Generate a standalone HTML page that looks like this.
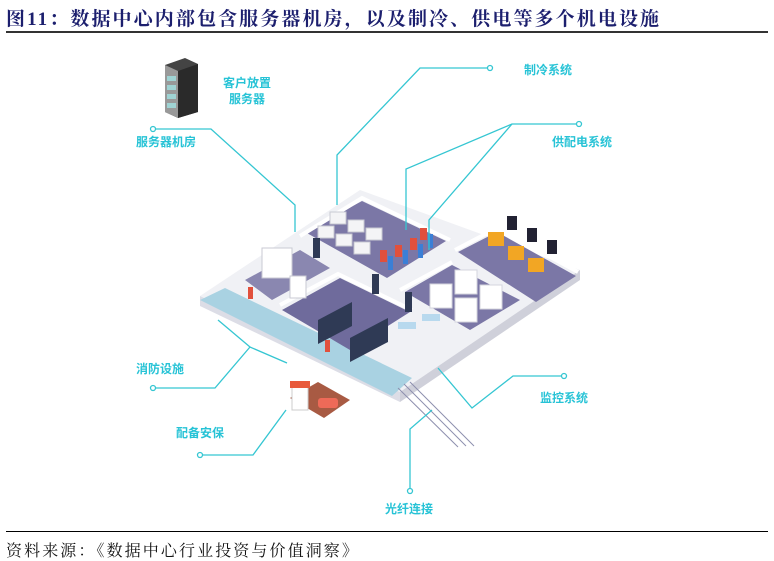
<!DOCTYPE html>
<html><head><meta charset="utf-8"><style>
body{margin:0;width:774px;height:561px;background:#fff;overflow:hidden;position:relative;font-family:"Liberation Serif","Noto Serif CJK SC",serif}
.t{position:absolute;left:6px;top:4px;font-size:19px;font-weight:bold;color:#1c1f6e;letter-spacing:2.1px;white-space:nowrap}
.s{position:absolute;left:6px;top:538px;font-size:16px;color:#111;letter-spacing:2.1px;white-space:nowrap}
.hr{position:absolute;left:6px;width:762px;height:1.5px;background:#333}
</style></head><body>
<div class="t">图11：数据中心内部包含服务器机房，以及制冷、供电等多个机电设施</div>
<div class="hr" style="top:31px"></div>
<div class="hr" style="top:531px;height:1px;background:#000"></div>
<div class="s">资料来源：《数据中心行业投资与价值洞察》</div>
<svg width="774" height="561" style="position:absolute;left:0;top:0" font-family="Liberation Sans,Noto Sans CJK SC,sans-serif" font-weight="bold" font-size="12">
<polygon points="165,65 185,58 198,64 198,112 178,118 165,112" fill="#444"/>
<polygon points="165,65 178,71 178,118 165,112" fill="#999"/>
<g fill="#9fd3d3"><rect x="167" y="76" width="9" height="5"/><rect x="167" y="85" width="9" height="5"/><rect x="167" y="94" width="9" height="5"/><rect x="167" y="103" width="9" height="5"/></g>
<polygon points="178,71 198,64 198,112 178,118" fill="#2a2a2a"/>
<g fill="#27c3d6">
<text x="247" y="87" text-anchor="middle">客户放置</text>
<text x="247" y="103" text-anchor="middle">服务器</text>
<text x="136" y="146">服务器机房</text>
<text x="524" y="74">制冷系统</text>
<text x="552" y="146">供配电系统</text>
<text x="136" y="373">消防设施</text>
<text x="176" y="437">配备安保</text>
<text x="540" y="402">监控系统</text>
<text x="385" y="513">光纤连接</text>
</g>
<polygon points="200,296 360,190 580,270 400,392" fill="#f0f1f5"/>
<polygon points="200,296 400,392 400,402 200,306" fill="#dcdde6"/>
<polygon points="400,392 580,270 580,280 400,402" fill="#cfd0da"/>
<polygon points="200,300 225,288 412,378 392,396" fill="#a9d2e2"/>
<polygon points="305,232 362,201 446,241 387,278" fill="#7b77a6"/>
<polygon points="458,252 497,232 576,276 536,302" fill="#7b77a6"/>
<polygon points="405,292 452,265 520,300 470,330" fill="#7b77a6"/>
<polygon points="282,310 340,278 410,312 350,350" fill="#6f6b9c"/>
<polygon points="245,280 300,250 330,268 272,300" fill="#8a87b0"/>
<g stroke="#fff" stroke-width="4" fill="none">
<polyline points="300,236 362,198 450,240"/><polyline points="455,250 497,228 578,272"/>
<polyline points="280,305 338,274 412,310"/><polyline points="400,290 452,262"/>
</g>
<g fill="#f4f4f6" stroke="#c9cad3">
<rect x="330" y="212" width="16" height="12"/><rect x="348" y="220" width="16" height="12"/><rect x="366" y="228" width="16" height="12"/>
<rect x="318" y="226" width="16" height="12"/><rect x="336" y="234" width="16" height="12"/><rect x="354" y="242" width="16" height="12"/>
</g>
<g fill="#e1503c"><rect x="380" y="250" width="7" height="12"/><rect x="395" y="245" width="7" height="12"/><rect x="410" y="238" width="7" height="12"/><rect x="420" y="228" width="7" height="12"/><rect x="248" y="287" width="5" height="12"/><rect x="325" y="340" width="5" height="12"/></g>
<g fill="#3b7fd6"><rect x="388" y="256" width="5" height="14"/><rect x="403" y="250" width="5" height="14"/><rect x="418" y="244" width="5" height="14"/><rect x="428" y="234" width="5" height="14"/></g>
<g fill="#f2a624"><rect x="488" y="232" width="16" height="14"/><rect x="508" y="246" width="16" height="14"/><rect x="528" y="258" width="16" height="14"/></g>
<g fill="#223"><rect x="507" y="216" width="10" height="14"/><rect x="527" y="228" width="10" height="14"/><rect x="547" y="240" width="10" height="14"/></g>
<g fill="#fff" stroke="#d4d5de"><rect x="430" y="284" width="22" height="24"/><rect x="455" y="270" width="22" height="24"/><rect x="480" y="285" width="22" height="24"/><rect x="455" y="298" width="22" height="24"/></g>
<g fill="#2f3a55"><polygon points="318,320 352,302 352,326 318,344"/><polygon points="350,338 388,318 388,342 350,362"/><rect x="372" y="274" width="7" height="20"/><rect x="405" y="292" width="7" height="20"/><rect x="313" y="238" width="7" height="20"/></g>
<g fill="#fff" stroke="#c9cad3"><rect x="262" y="248" width="30" height="30"/><rect x="290" y="276" width="16" height="22"/></g>
<g fill="#b8d9ee"><rect x="398" y="322" width="18" height="7"/><rect x="422" y="314" width="18" height="7"/></g>
<polygon points="290,398 318,382 350,400 324,418" fill="#a85a43"/>
<rect x="292" y="386" width="16" height="24" fill="#fff" stroke="#ccc"/>
<rect x="290" y="381" width="20" height="7" fill="#e85a3c"/>
<rect x="318" y="398" width="20" height="10" rx="3" fill="#ee6a58"/>
<g stroke="#8d8fae" stroke-width="1"><line x1="398" y1="388" x2="458" y2="447"/><line x1="404" y1="384" x2="466" y2="446"/><line x1="410" y1="382" x2="474" y2="446"/></g>
<g stroke="#35c6d2" stroke-width="1.3" fill="none">
<polyline points="155,129 211,129 295,205 295,232"/>
<polyline points="487,68 420,68 337,155 337,205"/>
<polyline points="576,124 512,124 406,169 406,230"/>
<polyline points="512,124 429,220 429,250"/>
<polyline points="155,388 215,388 250,347 287,363"/>
<polyline points="218,320 250,347"/>
<polyline points="203,455 253,455 286,410"/>
<polyline points="410,489 410,429 432,410"/>
<polyline points="562,376 513,376 472,408 438,368"/>
</g>
<g stroke="#35c6d2" stroke-width="1.3" fill="#fff">
<circle cx="153" cy="129" r="2.5"/><circle cx="490" cy="68" r="2.5"/><circle cx="579" cy="124" r="2.5"/><circle cx="153" cy="388" r="2.5"/><circle cx="200" cy="455" r="2.5"/><circle cx="410" cy="491" r="2.5"/><circle cx="564" cy="376" r="2.5"/>
</g>
</svg>
</body></html>
